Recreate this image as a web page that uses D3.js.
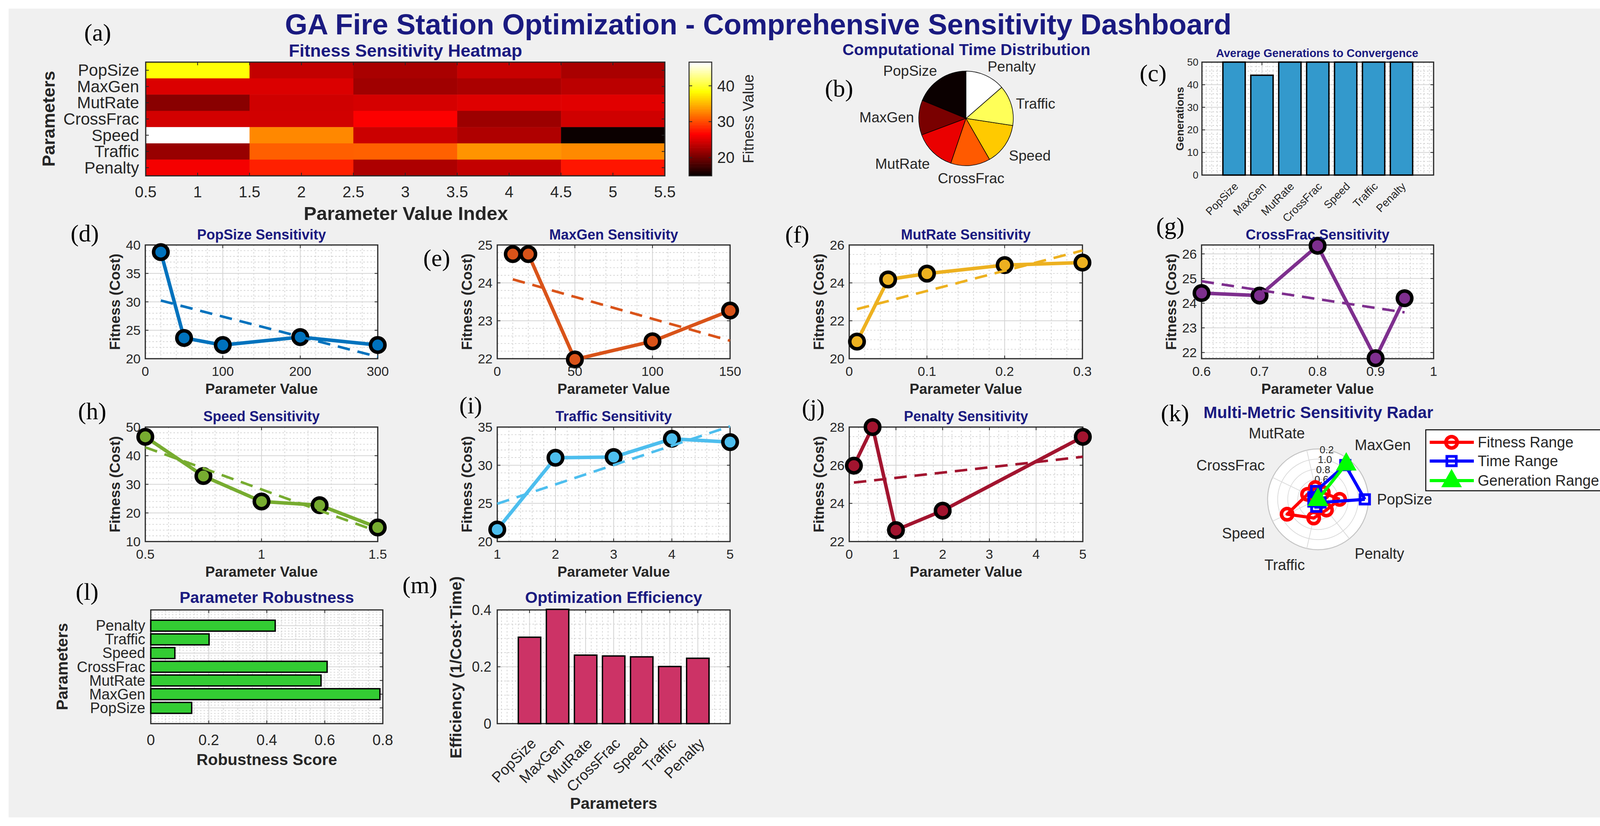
<!DOCTYPE html>
<html>
<head>
<meta charset="utf-8">
<script src="https://cdn.jsdelivr.net/npm/d3@7"></script>
<style>
  html, body { margin: 0; padding: 0; background: #fff; }
  svg text { font-family: "Liberation Sans", Arial, sans-serif; fill: #262626; }
</style>
</head>
<body>
<svg id="fig"></svg>
<script>
// Parameter names
const params = ['PopSize', 'MaxGen', 'MutRate', 'CrossFrac', 'Speed', 'Traffic', 'Penalty'];

// Sensitivity sweeps: tested parameter values and resulting fitness (cost)
const popSizeVals = [20, 50, 100, 200, 300];
const popSizeFit = [38.75, 23.65, 22.4, 23.8, 22.4];
const maxGenVals = [10, 20, 50, 100, 150];
const maxGenFit = [24.76, 24.76, 21.98, 22.46, 23.27];
const mutRateVals = [0.01, 0.05, 0.1, 0.2, 0.3];
const mutRateFit = [20.9, 24.18, 24.49, 24.94, 25.07];
const crossVals = [0.6, 0.7, 0.8, 0.9, 0.95];
const crossFit = [24.41, 24.31, 26.33, 21.77, 24.2];
const speedVals = [0.5, 0.75, 1.0, 1.25, 1.5];
const speedFit = [46.6, 32.9, 24.0, 22.7, 14.9];
const trafficVals = [1, 2, 3, 4, 5];
const trafficFit = [21.58, 30.98, 31.07, 33.46, 33.03];
const penaltyVals = [0.1, 0.5, 1, 2, 5];
const penaltyFit = [25.98, 28.0, 22.6, 23.62, 27.49];

// Tick labels
const heatXTicks = [0.5, 1, 1.5, 2, 2.5, 3, 3.5, 4, 4.5, 5, 5.5];
const colorbarTicks = [20, 30, 40];
const popSizeXTicks = [0, 100, 200, 300], popSizeYTicks = [20, 25, 30, 35, 40];
const maxGenXTicks = [0, 50, 100, 150], maxGenYTicks = [22, 23, 24, 25];
const mutRateXTicks = [0, 0.1, 0.2, 0.3], mutRateYTicks = [20, 22, 24, 26];
const crossXTicks = [0.6, 0.7, 0.8, 0.9, 1], crossYTicks = [22, 23, 24, 25, 26];
const speedXTicks = [0.5, 1, 1.5], speedYTicks = [10, 20, 30, 40, 50];
const trafficXTicks = [1, 2, 3, 4, 5], trafficYTicks = [20, 25, 30, 35];
const penaltyXTicks = [0, 1, 2, 3, 4, 5], penaltyYTicks = [22, 24, 26, 28];
const genTicks = [0, 10, 20, 30, 40, 50];
const robustTicks = [0, 0.2, 0.4, 0.6, 0.8];
const effTicks = [0, 0.2, 0.4];
const radarRingFrac = [0.2, 0.4, 0.6, 0.8, 1.0];
const radarTickFrac = [0.4, 0.6, 0.8, 1.0];
const radarTickLabels = ['0.6', '0.8', '1.0', '0.2'];

// Summary metrics per parameter
const computeTime = [18.8, 11.9, 14.1, 13.5, 14.3, 13.8, 13.6];
const avgGenerations = [50, 44.2, 50, 50, 50, 50, 50];
const robustness = [0.141, 0.79, 0.587, 0.608, 0.083, 0.201, 0.429];
const efficiency = [0.304, 0.402, 0.241, 0.238, 0.235, 0.201, 0.230];

// Radar series (normalised)
const fitnessRange = [0.43, 0.17, 0.24, 0.23, 0.68, 0.38, 0.27];
const timeRange = [0.93, 0.87, 0.17, 0.10, 0.10, 0.15, 0.08];
const generationRange = [0, 0.9, 0, 0, 0, 0, 0];

const W = 4150, H = 2114;
const NAVY = '#1a1a80';
const SERIF = '"Liberation Serif", "Times New Roman", serif';

const svg = d3.select('#fig').attr('width', W).attr('height', H);
svg.append('rect').attr('width', W).attr('height', H).attr('fill', '#fff');
svg.append('rect').attr('x', 22).attr('y', 22).attr('width', 4113).attr('height', 2070).attr('fill', '#f0f0f0');

// MATLAB "hot" colormap
function hot(t) {
  const c = v => Math.max(0, Math.min(1, v));
  const k = 63 * t + 1;
  return d3.rgb(255 * c(k / 24), 255 * c((k - 24) / 24), 255 * c((k - 48) / 16)).toString();
}

function txt(g, x, y, s, o = {}) {
  const t = g.append('text').attr('x', x).attr('y', y).text(s)
    .attr('font-size', o.size || 36)
    .attr('text-anchor', o.anchor || 'middle');
  if (o.base !== 'alpha') t.attr('dominant-baseline', o.base || 'central');
  if (o.bold) t.attr('font-weight', 'bold');
  if (o.fill) t.style('fill', o.fill);
  if (o.family) t.style('font-family', o.family);
  if (o.rot != null) t.attr('transform', `rotate(${o.rot},${x},${y})`);
  return t;
}

function letter(x, y, s) {
  txt(svg, x, y, s, { size: 62, family: SERIF, fill: '#000' });
}

function minorStep(ticks) {
  const step = ticks[1] - ticks[0];
  const lead = +step.toExponential().charAt(0);
  return lead === 2 ? step / 4 : step / 5;
}

function stepsIn(dom, step) {
  const lo = Math.ceil(dom[0] / step - 1e-6), hi = Math.floor(dom[1] / step + 1e-6);
  return d3.range(lo, hi + 1).map(k => +(k * step).toFixed(6));
}

// white plot area, grid, box and ticks
function frame(g, xs, ys, o) {
  const [x0, x1] = xs.range();
  const [y1, y0] = ys.range();
  g.append('rect').attr('x', x0).attr('y', y0).attr('width', x1 - x0).attr('height', y1 - y0).attr('fill', '#fff');
  const near = (v, arr) => arr.some(a => Math.abs(a - v) < 1e-6);
  if (o.grid) {
    if (o.xMinor) stepsIn(xs.domain(), o.xMinor).filter(v => !near(v, o.xTicks)).forEach(v => {
      g.append('line').attr('x1', xs(v)).attr('x2', xs(v)).attr('y1', y0).attr('y2', y1)
        .attr('stroke', '#cdcdcd').attr('stroke-width', 1.6).attr('stroke-dasharray', '4,5');
    });
    if (o.yMinor) stepsIn(ys.domain(), o.yMinor).filter(v => !near(v, o.yTicks)).forEach(v => {
      g.append('line').attr('y1', ys(v)).attr('y2', ys(v)).attr('x1', x0).attr('x2', x1)
        .attr('stroke', '#cdcdcd').attr('stroke-width', 1.6).attr('stroke-dasharray', '4,5');
    });
    o.xTicks.forEach(v => g.append('line').attr('x1', xs(v)).attr('x2', xs(v)).attr('y1', y0).attr('y2', y1)
      .attr('stroke', '#d4d4d4').attr('stroke-width', 2));
    o.yTicks.forEach(v => g.append('line').attr('y1', ys(v)).attr('y2', ys(v)).attr('x1', x0).attr('x2', x1)
      .attr('stroke', '#d4d4d4').attr('stroke-width', 2));
  }
  g.append('rect').attr('x', x0).attr('y', y0).attr('width', x1 - x0).attr('height', y1 - y0)
    .attr('fill', 'none').attr('stroke', '#262626').attr('stroke-width', 3);
  const tl = 8;
  o.xTicks.forEach(v => {
    g.append('line').attr('x1', xs(v)).attr('x2', xs(v)).attr('y1', y1).attr('y2', y1 - tl).attr('stroke', '#262626').attr('stroke-width', 2);
    g.append('line').attr('x1', xs(v)).attr('x2', xs(v)).attr('y1', y0).attr('y2', y0 + tl).attr('stroke', '#262626').attr('stroke-width', 2);
  });
  o.yTicks.forEach(v => {
    g.append('line').attr('y1', ys(v)).attr('y2', ys(v)).attr('x1', x0).attr('x2', x0 + tl).attr('stroke', '#262626').attr('stroke-width', 2);
    g.append('line').attr('y1', ys(v)).attr('y2', ys(v)).attr('x1', x1).attr('x2', x1 - tl).attr('stroke', '#262626').attr('stroke-width', 2);
  });
}

function linFit(xv, yv) {
  const mx = d3.mean(xv), my = d3.mean(yv);
  const sxy = d3.sum(xv, (x, i) => (x - mx) * (yv[i] - my));
  const sxx = d3.sum(xv, x => (x - mx) * (x - mx));
  const b = sxy / sxx;
  return x => my + b * (x - mx);
}

// ---------- Main title ----------
txt(svg, 1941, 88, 'GA Fire Station Optimization - Comprehensive Sensitivity Dashboard',
  { size: 74, bold: true, fill: NAVY, base: 'alpha' });

// ---------- (a) Heatmap ----------
(function () {
  const g = svg.append('g');
  const hm = [popSizeFit, maxGenFit, mutRateFit, crossFit, speedFit, trafficFit, penaltyFit];
  const all = hm.flat();
  const color = d3.scaleSequential(hot).domain(d3.extent(all));
  const xs = d3.scaleLinear().domain([0.5, 5.5]).range([373, 1702]);
  const ys = d3.scaleLinear().domain([0.5, 7.5]).range([159, 450]);
  hm.forEach((row, i) => row.forEach((v, j) => {
    g.append('rect').attr('x', xs(j + 0.5)).attr('y', ys(i + 0.5))
      .attr('width', xs(j + 1.5) - xs(j + 0.5) + 0.5).attr('height', ys(i + 1.5) - ys(i + 0.5) + 0.5)
      .attr('fill', color(v));
  }));
  g.append('rect').attr('x', 373).attr('y', 159).attr('width', 1329).attr('height', 291)
    .attr('fill', 'none').attr('stroke', '#262626').attr('stroke-width', 3);
  heatXTicks.forEach(v => {
    g.append('line').attr('x1', xs(v)).attr('x2', xs(v)).attr('y1', 450).attr('y2', 442).attr('stroke', '#262626').attr('stroke-width', 2);
    g.append('line').attr('x1', xs(v)).attr('x2', xs(v)).attr('y1', 159).attr('y2', 167).attr('stroke', '#262626').attr('stroke-width', 2);
    txt(g, xs(v), 491, String(v), { size: 40 });
  });
  params.forEach((p, i) => {
    const y = ys(i + 1);
    g.append('line').attr('x1', 373).attr('x2', 381).attr('y1', y).attr('y2', y).attr('stroke', '#262626').attr('stroke-width', 2);
    g.append('line').attr('x1', 1702).attr('x2', 1694).attr('y1', y).attr('y2', y).attr('stroke', '#262626').attr('stroke-width', 2);
    txt(g, 356, y, p, { size: 42, anchor: 'end' });
  });
  txt(g, 1038, 145, 'Fitness Sensitivity Heatmap', { size: 45, bold: true, fill: NAVY, base: 'alpha' });
  txt(g, 1039, 546, 'Parameter Value Index', { size: 49, bold: true });
  txt(g, 124, 304, 'Parameters', { size: 45, bold: true, rot: -90 });

  // colorbar
  const cs = d3.scaleLinear().domain(color.domain()).range([450, 159]);
  const n = 64;
  d3.range(n).forEach(k => {
    const y0 = 450 - (k + 1) * 291 / n;
    g.append('rect').attr('x', 1764).attr('y', y0).attr('width', 58).attr('height', 291 / n + 0.6)
      .attr('fill', hot(k / (n - 1)));
  });
  g.append('rect').attr('x', 1764).attr('y', 159).attr('width', 58).attr('height', 291)
    .attr('fill', 'none').attr('stroke', '#262626').attr('stroke-width', 2.5);
  colorbarTicks.forEach(v => {
    g.append('line').attr('x1', 1822).attr('x2', 1814).attr('y1', cs(v)).attr('y2', cs(v)).attr('stroke', '#262626').attr('stroke-width', 2);
    g.append('line').attr('x1', 1764).attr('x2', 1772).attr('y1', cs(v)).attr('y2', cs(v)).attr('stroke', '#262626').attr('stroke-width', 2);
    txt(g, 1836, cs(v), String(v), { size: 40, anchor: 'start' });
  });
  txt(g, 1916, 304, 'Fitness Value', { size: 38, rot: -90 });
  letter(250, 83, '(a)');
})();

// ---------- (b) Pie ----------
(function () {
  const g = svg.append('g');
  const cx = 2473, cy = 303, r = 121;
  const arcs = d3.pie().sort(null).startAngle(0).endAngle(-2 * Math.PI)(computeTime);
  const arc = d3.arc().innerRadius(0).outerRadius(r);
  g.selectAll('path.slice').data(arcs).join('path').attr('class', 'slice')
    .attr('transform', `translate(${cx},${cy})`).attr('d', arc)
    .attr('fill', (d, i) => hot(i / (params.length - 1)))
    .attr('stroke', '#000').attr('stroke-width', 1.5);
  const fs = 37;
  arcs.forEach((a, i) => {
    const mid = (a.startAngle + a.endAngle) / 2;
    const ux = Math.sin(mid), uy = -Math.cos(mid);
    const px = cx + 1.1 * r * ux, py = cy + 1.1 * r * uy;
    const anchor = Math.abs(ux) < 0.2 ? 'middle' : (ux > 0 ? 'start' : 'end');
    let y = py, base = 'central';
    if (uy < -0.3) { y = py + 1.5; base = 'alpha'; }
    else if (uy > 0.3) { y = py + 0.9 * fs; base = 'alpha'; }
    txt(g, px, y, params[i], { size: fs, anchor: anchor, base: base });
  });
  txt(g, 2474, 141, 'Computational Time Distribution', { size: 41, bold: true, fill: NAVY, base: 'alpha' });
  letter(2148, 226, '(b)');
})();

// ---------- categorical bar helper ----------
function catScale(range) {
  return d3.scaleLinear().domain([-0.15, 8.15]).range(range);
}
const catTicks = d3.range(1, params.length + 1);

// ---------- (c) Generations bar ----------
(function () {
  const g = svg.append('g');
  const xs = catScale([3077, 3670]);
  const ys = d3.scaleLinear().domain([0, 50]).range([448, 159]);
  frame(g, xs, ys, { xTicks: catTicks, yTicks: genTicks, grid: true, xMinor: 0.2, yMinor: minorStep(genTicks) });
  const bw = xs(0.4) - xs(0);
  avgGenerations.forEach((v, i) => {
    g.append('rect').attr('x', xs(i + 1) - bw).attr('y', ys(v)).attr('width', 2 * bw).attr('height', ys(0) - ys(v))
      .attr('fill', '#3399cc').attr('stroke', '#000').attr('stroke-width', 3.5);
  });
  genTicks.forEach(v => txt(g, 3068, ys(v), String(v), { size: 26, anchor: 'end' }));
  params.forEach((p, i) => {
    const x = xs(i + 1) + 6, y = 448 + 24;
    txt(g, x, y, p, { size: 28, anchor: 'end', rot: -45 });
  });
  txt(g, 3372, 146, 'Average Generations to Convergence', { size: 29, bold: true, fill: NAVY, base: 'alpha' });
  txt(g, 3020, 304, 'Generations', { size: 28, bold: true, rot: -90 });
  letter(2952, 187, '(c)');
})();

// ---------- (d)-(j) sensitivity line panels ----------
const rowA = [627, 918], rowB = [1093, 1386];
const sensPanels = [
  { tag: '(d)', name: 'PopSize', xv: popSizeVals, yv: popSizeFit, xDom: [0, 300], xT: popSizeXTicks, yDom: [20, 40], yT: popSizeYTicks, color: '#0072BD', xr: [372, 967], row: rowA, lp: [217, 597] },
  { tag: '(e)', name: 'MaxGen', xv: maxGenVals, yv: maxGenFit, xDom: [0, 150], xT: maxGenXTicks, yDom: [22, 25], yT: maxGenYTicks, color: '#D95319', xr: [1273, 1869], row: rowA, lp: [1118, 660] },
  { tag: '(f)', name: 'MutRate', xv: mutRateVals, yv: mutRateFit, xDom: [0, 0.3], xT: mutRateXTicks, yDom: [20, 26], yT: mutRateYTicks, color: '#EDB120', xr: [2174, 2771], row: rowA, lp: [2041, 600] },
  { tag: '(g)', name: 'CrossFrac', xv: crossVals, yv: crossFit, xDom: [0.6, 1], xT: crossXTicks, yDom: [21.75, 26.36], yT: crossYTicks, color: '#7E2F8E', xr: [3076, 3670], row: rowA, lp: [2996, 578] },
  { tag: '(h)', name: 'Speed', xv: speedVals, yv: speedFit, xDom: [0.5, 1.5], xT: speedXTicks, yDom: [10, 50], yT: speedYTicks, color: '#77AC30', xr: [372, 967], row: rowB, lp: [236, 1052] },
  { tag: '(i)', name: 'Traffic', xv: trafficVals, yv: trafficFit, xDom: [1, 5], xT: trafficXTicks, yDom: [20, 35], yT: trafficYTicks, color: '#4DBEEE', xr: [1273, 1869], row: rowB, lp: [1205, 1037] },
  { tag: '(j)', name: 'Penalty', xv: penaltyVals, yv: penaltyFit, xDom: [0, 5], xT: penaltyXTicks, yDom: [22, 28], yT: penaltyYTicks, color: '#A2142F', xr: [2174, 2772], row: rowB, lp: [2082, 1043] }
];

sensPanels.forEach(p => {
  const g = svg.append('g');
  const xs = d3.scaleLinear().domain(p.xDom).range(p.xr);
  const ys = d3.scaleLinear().domain(p.yDom).range([p.row[1], p.row[0]]);
  frame(g, xs, ys, { xTicks: p.xT, yTicks: p.yT, grid: true, xMinor: minorStep(p.xT), yMinor: minorStep(p.yT) });
  const pts = d3.zip(p.xv, p.yv);
  g.append('path').datum(pts)
    .attr('d', d3.line().x(d => xs(d[0])).y(d => ys(d[1])))
    .attr('fill', 'none').attr('stroke', p.color).attr('stroke-width', 9).attr('stroke-linejoin', 'round');
  g.selectAll('circle.mk').data(pts).join('circle').attr('class', 'mk')
    .attr('cx', d => xs(d[0])).attr('cy', d => ys(d[1])).attr('r', 18.5)
    .attr('fill', p.color).attr('stroke', '#000').attr('stroke-width', 9);
  const fit = linFit(p.xv, p.yv);
  const xa = p.xv[0], xb = p.xv[p.xv.length - 1];
  g.append('line').attr('x1', xs(xa)).attr('y1', ys(fit(xa))).attr('x2', xs(xb)).attr('y2', ys(fit(xb)))
    .attr('stroke', p.color).attr('stroke-width', 6.5).attr('stroke-dasharray', '32,20');

  const [x0, x1] = p.xr, [y0, y1] = p.row;
  const tickY = p.row === rowA ? 950 : 1418;
  const labY = p.row === rowA ? 995 : 1463;
  const titleY = p.row === rowA ? 613 : 1078;
  p.xT.forEach(v => txt(g, xs(v), tickY, String(v), { size: 34 }));
  p.yT.forEach(v => txt(g, x0 - 12, ys(v), String(v), { size: 34, anchor: 'end' }));
  txt(g, (x0 + x1) / 2, titleY, p.name + ' Sensitivity', { size: 36, bold: true, fill: NAVY, base: 'alpha' });
  txt(g, (x0 + x1) / 2, labY, 'Parameter Value', { size: 37, bold: true });
  txt(g, x0 - 78, (y0 + y1) / 2, 'Fitness (Cost)', { size: 37, bold: true, rot: -90 });
  letter(p.lp[0], p.lp[1], p.tag);
});

// ---------- (k) Radar ----------
(function () {
  const g = svg.append('g');
  const cx = 3374, cy = 1278, R = 129;
  const rs = d3.scaleLinear().domain([0, 1]).range([0, R]);
  const ang = i => i * 2 * Math.PI / params.length;
  const pt = (i, v) => [cx + rs(v) * Math.cos(ang(i)), cy - rs(v) * Math.sin(ang(i))];

  g.append('circle').attr('cx', cx).attr('cy', cy).attr('r', R).attr('fill', '#fff');
  radarRingFrac.forEach(f => g.append('circle').attr('cx', cx).attr('cy', cy).attr('r', rs(f))
    .attr('fill', 'none').attr('stroke', f === 1 ? '#c4c4c4' : '#d9d9d9').attr('stroke-width', f === 1 ? 2.5 : 1.8));
  params.forEach((p, i) => {
    const [x, y] = pt(i, 1);
    g.append('line').attr('x1', cx).attr('y1', cy).attr('x2', x).attr('y2', y).attr('stroke', '#d9d9d9').attr('stroke-width', 1.8);
  });
  const a80 = 80 * Math.PI / 180;
  radarTickFrac.forEach((f, k) => {
    txt(g, cx + rs(f) * Math.cos(a80), cy - rs(f) * Math.sin(a80), radarTickLabels[k], { size: 26 });
  });
  const fs = 38;
  params.forEach((p, i) => {
    const c = Math.cos(ang(i)), s = Math.sin(ang(i));
    const px = cx + 1.17 * R * c, py = cy - 1.17 * R * s;
    const anchor = Math.abs(c) < 0.01 ? 'middle' : (c > 0 ? 'start' : 'end');
    let y = py, base = 'central';
    if (s > 0.01) { y = py - 0.22 * fs; base = 'alpha'; }
    else if (s < -0.01) { y = py + 0.9 * fs; base = 'alpha'; }
    txt(g, px, y, p, { size: fs, anchor: anchor, base: base });
  });

  const radarSeries = [
    { name: 'Fitness Range', vals: fitnessRange, color: '#ff0000', marker: 'circle' },
    { name: 'Time Range', vals: timeRange, color: '#0000ff', marker: 'square' },
    { name: 'Generation Range', vals: generationRange, color: '#00ff00', marker: 'triangle' }
  ];
  function marker(sel, type, x, y, color) {
    if (type === 'circle') {
      sel.append('circle').attr('cx', x).attr('cy', y).attr('r', 14.5).attr('fill', 'none').attr('stroke', color).attr('stroke-width', 9);
    } else if (type === 'square') {
      sel.append('rect').attr('x', x - 12).attr('y', y - 12).attr('width', 24).attr('height', 24).attr('fill', 'none').attr('stroke', color).attr('stroke-width', 7);
    } else {
      sel.append('path').attr('d', `M${x},${y - 26}L${x + 23},${y + 15}L${x - 23},${y + 15}Z`).attr('fill', color).attr('stroke', color).attr('stroke-width', 4);
    }
  }
  radarSeries.forEach(s => {
    const pts = s.vals.map((v, i) => pt(i, v));
    g.append('path').attr('d', d3.line()(pts.concat([pts[0]])))
      .attr('fill', 'none').attr('stroke', s.color).attr('stroke-width', 8).attr('stroke-linejoin', 'round');
    pts.forEach(q => marker(g, s.marker, q[0], q[1], s.color));
  });

  // legend
  g.append('rect').attr('x', 3650).attr('y', 1100).attr('width', 456).attr('height', 156)
    .attr('fill', '#fff').attr('stroke', '#000').attr('stroke-width', 2.5);
  const rowsY = [1132, 1180, 1230];
  radarSeries.forEach((s, k) => {
    g.append('line').attr('x1', 3660).attr('x2', 3773).attr('y1', rowsY[k]).attr('y2', rowsY[k])
      .attr('stroke', s.color).attr('stroke-width', 8);
    marker(g, s.marker, 3716, rowsY[k], s.color);
    txt(g, 3783, rowsY[k], s.name, { size: 38, anchor: 'start' });
  });

  txt(g, 3375, 1070, 'Multi-Metric Sensitivity Radar', { size: 42, bold: true, fill: NAVY, base: 'alpha' });
  letter(3008, 1057, '(k)');
})();

// ---------- (l) Robustness (horizontal bars) ----------
(function () {
  const g = svg.append('g');
  const xs = d3.scaleLinear().domain([0, 0.8]).range([386, 980]);
  const ys = catScale([1852, 1561]);
  frame(g, xs, ys, { xTicks: robustTicks, yTicks: catTicks, grid: true, xMinor: minorStep(robustTicks), yMinor: 0.2 });
  const bh = ys(0) - ys(0.4);
  robustness.forEach((v, i) => {
    g.append('rect').attr('x', xs(0)).attr('y', ys(i + 1) - bh).attr('width', xs(v) - xs(0)).attr('height', 2 * bh)
      .attr('fill', '#33cc33').attr('stroke', '#000').attr('stroke-width', 3.5);
  });
  robustTicks.forEach(v => txt(g, xs(v), 1894, String(v), { size: 38 }));
  params.forEach((p, i) => txt(g, 372, ys(i + 1), p, { size: 38, anchor: 'end' }));
  txt(g, 683, 1543, 'Parameter Robustness', { size: 41, bold: true, fill: NAVY, base: 'alpha' });
  txt(g, 683, 1944, 'Robustness Score', { size: 41, bold: true });
  txt(g, 159, 1706, 'Parameters', { size: 41, bold: true, rot: -90 });
  letter(223, 1514, '(l)');
})();

// ---------- (m) Efficiency ----------
(function () {
  const g = svg.append('g');
  const xs = catScale([1273, 1869]);
  const ys = d3.scaleLinear().domain([0, 0.4]).range([1852, 1561]);
  frame(g, xs, ys, { xTicks: catTicks, yTicks: effTicks, grid: true, xMinor: 0.2, yMinor: minorStep(effTicks) });
  const bw = xs(0.4) - xs(0);
  efficiency.forEach((v, i) => {
    g.append('rect').attr('x', xs(i + 1) - bw).attr('y', ys(v)).attr('width', 2 * bw).attr('height', ys(0) - ys(v))
      .attr('fill', '#cc3366').attr('stroke', '#000').attr('stroke-width', 3.5);
  });
  effTicks.forEach(v => txt(g, 1258, ys(v), String(v), { size: 36, anchor: 'end' }));
  params.forEach((p, i) => {
    txt(g, xs(i + 1) + 10, 1852 + 44, p, { size: 38, anchor: 'end', rot: -45 });
  });
  txt(g, 1571, 1543, 'Optimization Efficiency', { size: 41, bold: true, fill: NAVY, base: 'alpha' });
  txt(g, 1571, 2056, 'Parameters', { size: 41, bold: true });
  txt(g, 1167, 1708, 'Efficiency (1/Cost\u00B7Time)', { size: 41, bold: true, rot: -90 });
  letter(1075, 1497, '(m)');
})();
</script>
</body>
</html>
